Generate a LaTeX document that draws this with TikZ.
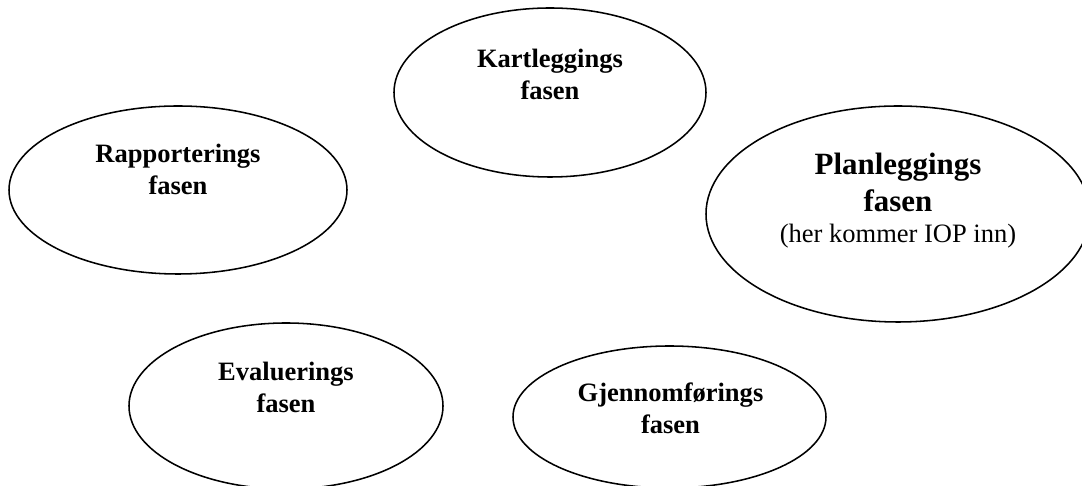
\documentclass[tikz,border=0pt]{standalone}
\usepackage{fontspec}
\setmainfont{Liberation Serif}
\usepackage{tikz}
\usetikzlibrary{shapes.geometric, positioning}
\tikzset{
  % Ellipse styles
  phaseellipse/.style 2 args={ellipse, draw=black, line width=0.7pt, minimum width=#1*0.4525pt, minimum height=#2*0.4525pt, inner sep=0pt},
  % Text styles
  phasetext/.style={font=\fontsize{12}{14.5}\selectfont\bfseries, align=center, anchor=north, inner sep=0pt},
  bigtext/.style={phasetext, font=\fontsize{14}{16.7}\selectfont\bfseries}
}

\begin{document}
\begin{tikzpicture}[x=0.4525pt, y=-0.4525pt]
  \useasboundingbox (0,0) rectangle (1082,486);
  \fill[white] (0,0) rectangle (1082,486);
  \clip (0,0) rectangle (1082,486);

  % The five phases
  \node[phaseellipse={312}{169}] (kartlegging) at (550,92.5) {};
  \node[phaseellipse={338}{168}] (rapportering) at (178,190) {};
  \node[phaseellipse={384}{216}] (planlegging) at (898,214) {};
  \node[phaseellipse={314}{166}] (evaluering) at (286,406) {};
  \node[phaseellipse={313}{142}] (gjennomforing) at (669.5,417) {};

  % Phase names
  \node[phasetext] (kartleggingtext) at (550,49) {Kartleggings\\fasen};
  \node[phasetext] (rapporteringtext) at (178,144) {Rapporterings\\fasen};
  \node[bigtext] (planleggingtext) at (898,153) {Planleggings\\fasen\\[-2.7pt]{\fontsize{12}{14}\selectfont\mdseries (her kommer IOP inn)}};
  \node[phasetext] (evalueringtext) at (286,362) {Evaluerings\\fasen};
  \node[phasetext] (gjennomforingtext) at (670.5,382) {Gjennomførings\\fasen};
\end{tikzpicture}
\end{document}
